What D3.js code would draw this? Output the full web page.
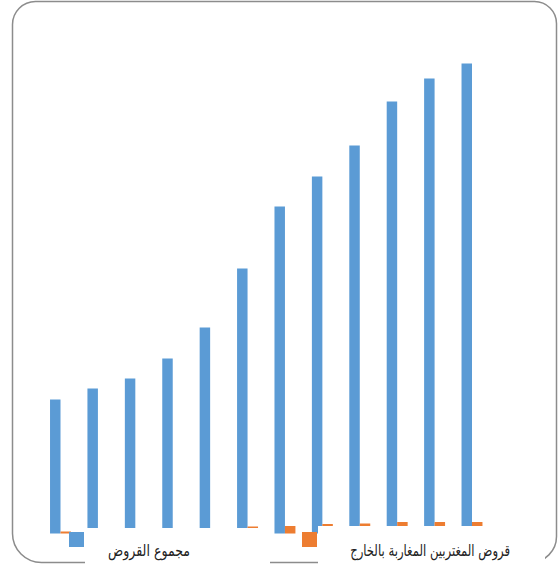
<!DOCTYPE html>
<html>
<head>
<meta charset="utf-8">
<script src="https://cdn.jsdelivr.net/npm/d3@7"></script>
<style>
  html, body { margin: 0; padding: 0; background: #fff; }
  svg { display: block; }
</style>
</head>
<body>
<svg id="chart" width="558" height="567"></svg>
<script>
// Loan series by period
const categories = ["1", "2", "3", "4", "5", "6", "7", "8", "9", "10", "11", "12"];
const totalLoans = [134, 145, 155, 175, 206, 265, 327, 357, 388, 432, 455, 470];
const expatLoans = [2, 3, 3, 4, 5, 7, 7.5, 9.5, 10, 11.5, 11.5, 11.5];
const seriesNames = ["مجموع القروض", "قروض المغتربين المغاربة بالخارج"];
const seriesColors = ["#5B9BD5", "#ED7D31"];

const svg = d3.select("#chart");

// Rounded frame around the chart area
function roundedFrame(x0, y0, x1, y1, tl, tr, br, bl) {
  const p = d3.path();
  p.moveTo(x0 + tl, y0);
  p.lineTo(x1 - tr, y0);
  p.arcTo(x1, y0, x1, y0 + tr, tr);
  p.lineTo(x1, y1 - br);
  p.arcTo(x1, y1, x1 - br, y1, br);
  p.lineTo(x0 + bl, y1);
  p.arcTo(x0, y1, x0, y1 - bl, bl);
  p.lineTo(x0, y0 + tl);
  p.arcTo(x0, y0, x0 + tl, y0, tl);
  p.closePath();
  return p.toString();
}
svg.append("path")
  .attr("d", roundedFrame(12.5, 1.5, 556.5, 562.5, 23, 22, 26, 29))
  .attr("fill", "#fff")
  .attr("stroke", "#8c8c8c")
  .attr("stroke-width", 1.5);

// Scales
const x0 = d3.scaleBand()
  .domain(categories)
  .range([41.8, 490.7])
  .paddingInner(0.44)
  .paddingOuter(0.22);
const x1 = d3.scaleBand()
  .domain([0, 1])
  .range([0, x0.bandwidth()]);
const y = d3.scaleLinear()
  .domain([0, 500])
  .range([533.5, 33.5]);

const rows = categories.map((c, i) => ({ cat: c, vals: [totalLoans[i], expatLoans[i]] }));

const groups = svg.append("g")
  .selectAll("g")
  .data(rows)
  .join("g")
  .attr("transform", d => `translate(${x0(d.cat)},0)`);

groups.selectAll("rect")
  .data(d => d.vals.map((v, k) => ({ k, v })))
  .join("rect")
  .attr("x", d => x1(d.k))
  .attr("width", x1.bandwidth())
  .attr("y", d => y(d.v))
  .attr("height", d => y(0) - y(d.v))
  .attr("fill", d => seriesColors[d.k]);

// Legend: marker followed by a white label panel
const legendItems = [
  { mx: 69, my: 532, bx: 85, by: 528, bw: 185, tx: 190, ty: 556, tw: 82 },
  { mx: 302, my: 532, bx: 318, by: 526, bw: 227, tx: 510, ty: 556, tw: 160 }
];
const legend = svg.append("g");
legendItems.forEach((it, i) => {
  legend.append("rect")
    .attr("x", it.bx).attr("y", it.by)
    .attr("width", it.bw).attr("height", 567 - it.by)
    .attr("fill", "#fff");
  legend.append("rect")
    .attr("x", it.mx).attr("y", it.my)
    .attr("width", 15).attr("height", 15)
    .attr("fill", seriesColors[i]);
  const label = legend.append("text")
    .attr("x", 0).attr("y", 0)
    .attr("text-anchor", "end")
    .attr("font-family", "'DejaVu Sans', sans-serif")
    .attr("font-size", 16)
    .attr("fill", "#222")
    .text(seriesNames[i]);
  // narrow the label horizontally to its panel width
  const natural = label.node().getComputedTextLength();
  const sx = Math.min(1, it.tw / natural);
  label.attr("transform", `translate(${it.tx},${it.ty}) scale(${sx},1)`);
});
</script>
</body>
</html>
